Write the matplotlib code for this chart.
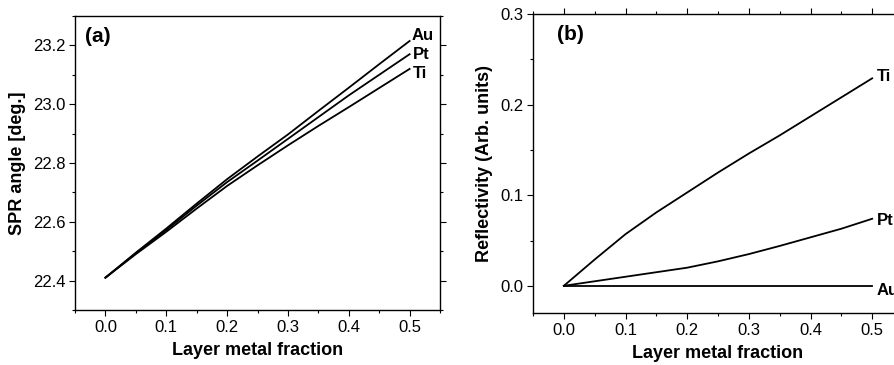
import matplotlib
matplotlib.use("Agg")
import matplotlib.pyplot as plt
from matplotlib.ticker import MultipleLocator

plt.rcParams['font.family'] = ['Liberation Sans', 'DejaVu Sans']

fraction = [0.0, 0.05, 0.1, 0.15, 0.2, 0.25, 0.3, 0.35, 0.4, 0.45, 0.5]

# Panel (a): SPR angle [deg.]
spr_au = [22.41, 22.495, 22.577, 22.662, 22.745, 22.822, 22.897, 22.977, 23.056, 23.136, 23.215]
spr_pt = [22.41, 22.493, 22.572, 22.655, 22.735, 22.808, 22.882, 22.956, 23.030, 23.100, 23.170]
spr_ti = [22.41, 22.490, 22.566, 22.645, 22.722, 22.792, 22.860, 22.926, 22.990, 23.055, 23.120]

# Panel (b): Reflectivity (Arb. units)
ref_ti = [0.0, 0.029, 0.057, 0.081, 0.103, 0.125, 0.146, 0.166, 0.187, 0.208, 0.229]
ref_pt = [0.0, 0.005, 0.010, 0.015, 0.020, 0.027, 0.035, 0.044, 0.0535, 0.063, 0.074]
ref_au = [0.0, 0.0, 0.0, 0.0, 0.0, 0.0, 0.0, 0.0, 0.0, 0.0, 0.0]

fig = plt.figure(figsize=(8.94, 3.65), dpi=100)
axA = fig.add_axes([0.0839, 0.1507, 0.4083, 0.8055])
axB = fig.add_axes([0.5962, 0.1425, 0.4139, 0.8192])

lw = 1.3
for ax in (axA, axB):
    ax.set_xlim(-0.05, 0.55)
    ax.xaxis.set_major_locator(MultipleLocator(0.1))
    ax.xaxis.set_minor_locator(MultipleLocator(0.05))
    ax.tick_params(which='both', direction='out', top=True, right=True,
                   labeltop=False, labelright=False, width=0.8, labelsize=12)
    ax.tick_params(which='major', length=4, pad=3)
    ax.tick_params(which='minor', length=2.5)
    for s in ax.spines.values():
        s.set_linewidth(1.0)
    ax.set_xlabel('Layer metal fraction', fontsize=13, fontweight='bold', labelpad=5)

# (a)
axA.plot(fraction, spr_au, color='black', lw=lw)
axA.plot(fraction, spr_pt, color='black', lw=lw)
axA.plot(fraction, spr_ti, color='black', lw=lw)
axA.set_ylim(22.3, 23.3)
axA.yaxis.set_minor_locator(MultipleLocator(0.1))
axA.set_yticks([22.4, 22.6, 22.8, 23.0, 23.2])
axA.set_yticklabels(['22.4', '22.6', '22.8', '23.0', '23.2'])
axA.tick_params(axis='x', which='both', top=False)
axA.set_ylabel('SPR angle [deg.]', fontsize=13, fontweight='bold', labelpad=5)
axA.text(0.028, 0.93, '(a)', transform=axA.transAxes, fontsize=15, fontweight='bold', va='center')
tkw = dict(fontsize=12, fontweight='bold', va='center', ha='left')
axA.text(0.504, spr_au[-1] + 0.018, 'Au', **tkw)
axA.text(0.506, spr_pt[-1] + 0.0, 'Pt', **tkw)
axA.text(0.506, spr_ti[-1] - 0.015, 'Ti', **tkw)

# (b)
axB.plot(fraction, ref_ti, color='black', lw=lw)
axB.plot(fraction, ref_pt, color='black', lw=lw)
axB.plot(fraction, ref_au, color='black', lw=lw)
axB.set_ylim(-0.03, 0.3)
axB.yaxis.set_major_locator(MultipleLocator(0.1))
axB.yaxis.set_minor_locator(MultipleLocator(0.05))
axB.set_ylabel('Reflectivity (Arb. units)', fontsize=13, fontweight='bold', labelpad=5)
axB.text(0.065, 0.93, '(b)', transform=axB.transAxes, fontsize=15, fontweight='bold', va='center')
axB.text(0.507, ref_ti[-1] + 0.002, 'Ti', **tkw)
axB.text(0.507, ref_pt[-1] - 0.002, 'Pt', **tkw)
axB.text(0.507, ref_au[-1] - 0.005, 'Au', **tkw)

fig.savefig('out.png', dpi=100)
